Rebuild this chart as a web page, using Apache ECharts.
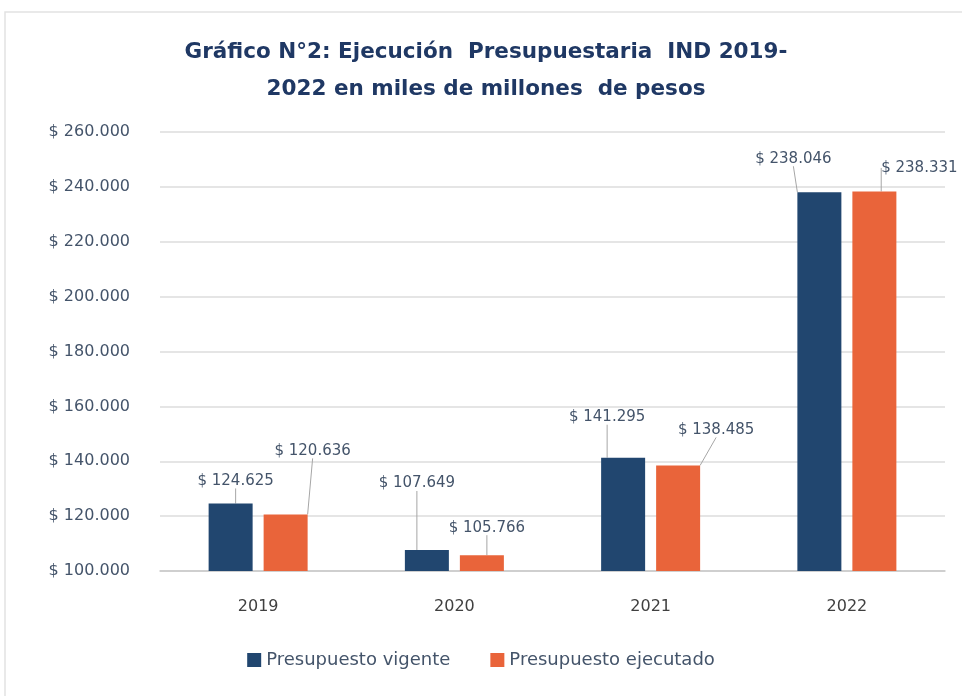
<!DOCTYPE html>
<html>
<head>
<meta charset="utf-8">
<script src="https://cdn.jsdelivr.net/npm/echarts@6/dist/echarts.min.js"></script>
<style>
  html, body { margin: 0; padding: 0; background: #fff; }
  #chart { width: 962px; height: 696px; }
</style>
</head>
<body>
<div id="chart"></div>
<script>
// datos
var years = ['2019', '2020', '2021', '2022']
var vigente = [124625, 107649, 141295, 238046]
var ejecutado = [120636, 105766, 138485, 238331]
var seriesNames = ['Presupuesto vigente', 'Presupuesto ejecutado']

// desplazamiento de etiquetas (dx, dy) respecto a la posición por defecto
var offVigente = [[5, -10], [-10, -54], [-16, -28], [-26, -21]]
var offEjecutado = [[27, -51], [5, -15], [38, -23], [45, -11]]

function miles(v) {
  return '$ ' + String(v).replace(/\B(?=(\d{3})+(?!\d))/g, '.')
}

var myChart = echarts.init(document.getElementById('chart'))

var labelStyle = {
  show: true,
  position: 'top',
  distance: 5,
  color: '#44546a',
  fontFamily: 'DejaVu Sans',
  fontSize: 15,
  formatter: function (p) { return miles(p.value) }
}

var option = {
  animation: false,
  title: {
    text: 'Gráfico N°2: Ejecución  Presupuestaria  IND 2019-\n2022 en miles de millones  de pesos',
    left: 481,
    textAlign: 'center',
    top: 29,
    textStyle: {
      color: '#1f3864',
      fontFamily: 'DejaVu Sans',
      fontWeight: 'bold',
      fontSize: 21.5,
      lineHeight: 37
    }
  },
  graphic: [{
    type: 'rect',
    shape: { x: 5, y: 12, width: 980, height: 700 },
    style: { fill: 'none', stroke: '#e2e2e2', lineWidth: 1.5 },
    silent: true
  }],
  legend: {
    bottom: 22,
    left: 'center',
    itemWidth: 14,
    itemHeight: 14,
    itemGap: 40,
    icon: 'rect',
    textStyle: { color: '#44546a', fontFamily: 'DejaVu Sans', fontSize: 18 },
    data: seriesNames
  },
  grid: { left: 160, right: 17, top: 132, bottom: 125 },
  xAxis: {
    type: 'category',
    data: years,
    axisTick: { show: false },
    axisLine: { lineStyle: { color: '#c8c8c8', width: 1.5 } },
    axisLabel: { color: '#404040', fontFamily: 'DejaVu Sans', fontSize: 16, margin: 28 }
  },
  yAxis: {
    type: 'value',
    min: 100000,
    max: 260000,
    interval: 20000,
    axisLine: { show: false },
    axisTick: { show: false },
    splitLine: { lineStyle: { color: '#dcdcdc', width: 1.5 } },
    axisLabel: {
      color: '#44546a',
      fontFamily: 'DejaVu Sans',
      fontSize: 16,
      margin: 30,
      formatter: function (v) { return miles(v) }
    }
  },
  series: [
    {
      name: seriesNames[0],
      type: 'bar',
      data: vigente,
      barWidth: 44,
      barGap: '25%',
      itemStyle: { color: '#21466f' },
      label: labelStyle,
      labelLine: { show: true, lineStyle: { color: '#a6a6a6', width: 1 } },
      labelLayout: function (p) {
        var o = offVigente[p.dataIndex]
        return { dx: o[0], dy: o[1] }
      }
    },
    {
      name: seriesNames[1],
      type: 'bar',
      data: ejecutado,
      barWidth: 44,
      itemStyle: { color: '#e9643a' },
      label: labelStyle,
      labelLine: { show: true, lineStyle: { color: '#a6a6a6', width: 1 } },
      labelLayout: function (p) {
        var o = offEjecutado[p.dataIndex]
        return { dx: o[0], dy: o[1] }
      }
    }
  ]
}

myChart.setOption(option)
</script>
</body>
</html>
